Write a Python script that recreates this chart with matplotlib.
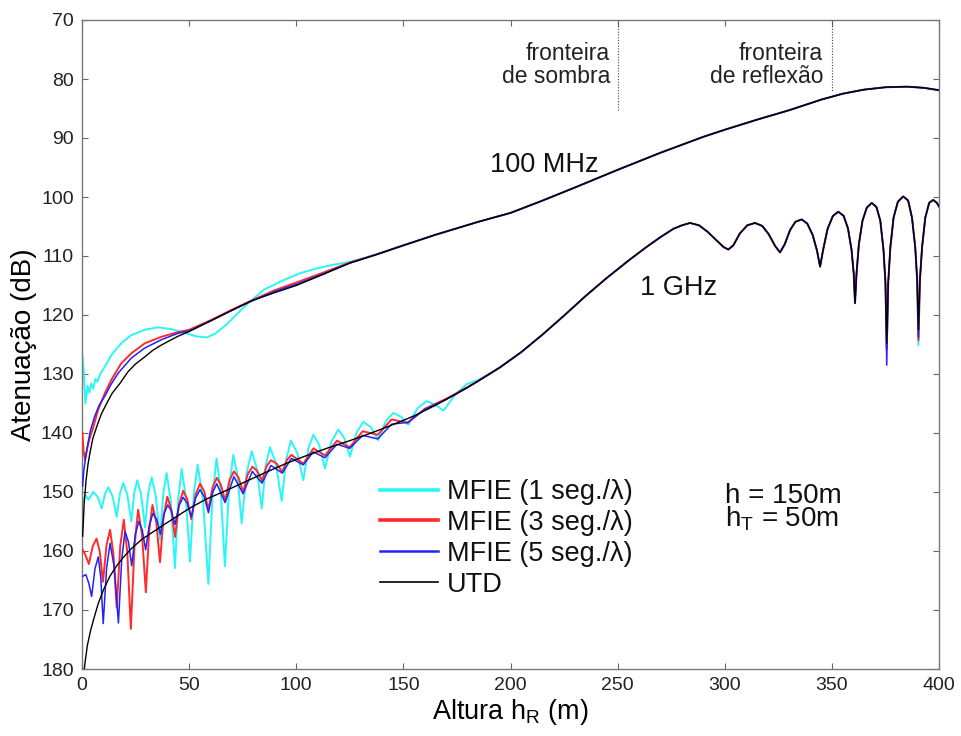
import matplotlib
matplotlib.use("Agg")
import matplotlib.pyplot as plt

plt.rcParams['font.family'] = ['Liberation Sans', 'DejaVu Sans']
plt.rcParams['mathtext.fontset'] = 'custom'
plt.rcParams['mathtext.rm'] = 'Liberation Sans'
plt.rcParams['mathtext.it'] = 'Liberation Sans:italic'

# ---------------- data ----------------
x_ticks = [0, 50, 100, 150, 200, 250, 300, 350, 400]
y_ticks = [70, 80, 90, 100, 110, 120, 130, 140, 150, 160, 170, 180]

labels = ['MFIE (1 seg./λ)', 'MFIE (3 seg./λ)', 'MFIE (5 seg./λ)', 'UTD']

boundary_x = [250, 350]
boundary_end = [85.3, 82.2]

# 100 MHz, UTD (x [m], attenuation [dB])
utd_100 = [(0.3, 157.5), (0.6, 155.3), (1.0, 152.0), (1.9, 148.0), (2.8, 145.3), (3.7, 143.4),
           (5.0, 141.0), (6.9, 138.9), (9.0, 136.8), (11.5, 135.0), (14, 133.3), (17.7, 131.6),
           (21.5, 129.6), (25, 128.3), (29.3, 127.1), (33, 126.0), (37, 125.1), (44.8, 123.6),
           (50, 122.8), (60, 121.0), (70, 119.2), (78.4, 117.7), (90, 116.2), (100, 115.0),
           (112, 113.2), (125, 111.2), (137, 109.8), (150, 108.2), (165, 106.4), (185, 104.2),
           (200, 102.7), (215, 100.6), (230, 98.4), (250, 95.4), (270, 92.5), (290, 89.8),
           (300, 88.6), (315, 86.9), (330, 85.3), (345, 83.5), (355, 82.5), (365, 81.8),
           (375, 81.4), (385, 81.3), (393, 81.5), (400, 81.9)]

# 100 MHz, MFIE curves up to where they join the UTD curve
mfie1_100_head = [(0.2, 127.0), (0.8, 129.5), (1.6, 135.0), (2.6, 132.0), (3.4, 133.2), (4.3, 131.6),
                  (5.2, 132.5), (6.3, 130.8), (7.2, 131.3), (8.5, 130.0), (10.6, 128.8), (13.7, 126.8),
                  (18.3, 124.8), (23, 123.4), (29.3, 122.5), (35.5, 122.1), (41.7, 122.4), (48, 123.0),
                  (53, 123.6), (58.2, 123.8), (62, 123.2), (67.5, 121.6), (73, 119.6), (78.4, 117.7),
                  (85, 115.7), (94, 114.1), (102, 112.9), (109.5, 112.1), (117, 111.5), (125.1, 111.0),
                  (137.5, 109.7)]
mfie3_100_head = [(0.2, 140.0), (0.7, 143.0), (1.4, 144.6), (2.5, 142.5), (3.5, 141.0), (5.1, 139.2),
                  (7.5, 136.1), (10.6, 133.3), (13.7, 131.0), (18.3, 128.2), (23, 126.5), (29.3, 124.8),
                  (37, 123.7), (44.8, 122.9), (50, 122.5), (60, 120.9), (70, 119.1), (80, 117.4),
                  (90, 115.8), (100, 114.5), (112, 112.9), (125, 111.1), (137, 109.8)]
mfie5_100_head = [(0.3, 149.0), (0.8, 146.5), (1.8, 143.8), (2.8, 141.7), (4.0, 139.5), (5.9, 137.2),
                  (8.0, 135.3), (10.6, 133.8), (13.5, 131.8), (16.8, 129.9), (23, 127.3), (29.3, 125.6),
                  (37, 124.2), (44.8, 123.1), (50, 122.7), (60, 121.0), (70, 119.2), (80, 117.5),
                  (90, 116.0), (100, 114.8), (112, 113.1), (125, 111.2), (137, 109.8)]
join_100 = 150

# 1 GHz, UTD
utd_1g = [(0.9, 180.5), (1.4, 179.0), (2.5, 176.0), (4.0, 173.5), (5.5, 171.5), (7.5, 169.0),
          (10, 166.6), (13, 164.3), (16, 162.6), (19, 161.2), (23, 159.6), (28, 158.0), (33, 156.8),
          (38, 155.6), (44, 154.2), (50, 152.8), (58, 151.2), (67, 149.8), (76, 148.3), (85, 146.8),
          (95, 145.2), (105, 143.8), (115, 142.5), (125, 141.3), (135, 140.0), (145, 138.6),
          (155, 137.1), (165, 135.3), (175, 133.3), (185, 131.2), (195, 128.9), (205, 126.3),
          (215, 123.3), (225, 120.1), (235, 116.8), (245, 113.7), (255, 110.8), (263, 108.6),
          (270, 106.8), (276, 105.4), (280, 104.8), (283.8, 104.4), (288, 104.8), (292, 105.9),
          (296, 107.3), (299.5, 108.5), (301.7, 108.9), (304, 108.2), (307, 106.2), (310.5, 104.8),
          (314.1, 104.4), (317.5, 104.9), (320.5, 106.3), (323.5, 108.3), (325.8, 109.4),
          (328, 108.0), (330.5, 105.6), (333, 104.2), (335.9, 103.8), (338.5, 104.5), (341, 106.4),
          (343, 109.0), (344.5, 111.8), (346, 108.8), (348, 105.4), (350.5, 103.2), (353, 102.5),
          (355.5, 103.2), (357.5, 105.3), (359.2, 109.0), (360.2, 113.0), (360.8, 118.0),
          (361.5, 113.0), (362.6, 108.0), (364.3, 104.0), (366.3, 101.8), (368.6, 101.0),
          (370.8, 101.7), (372.6, 104.0), (374.1, 109.0), (375.0, 114.5), (375.6, 124.8),
          (376.3, 114.5), (377.3, 108.5), (378.8, 103.5), (380.8, 100.8), (383.3, 99.9),
          (385.6, 100.6), (387.4, 103.5), (388.9, 108.5), (389.8, 114.0), (390.4, 122.5),
          (391.1, 114.0), (392.1, 108.5), (393.6, 103.5), (395.4, 101.0), (397.3, 100.5),
          (399, 101.0), (400, 101.6)]

# 1 GHz, MFIE curves up to where they join the UTD curve
mfie1_1g_head = [(0.3, 151.8), (1.5, 150.5), (3.0, 151.3), (5.3, 150.0), (7.25, 150.8), (9.2, 152.8),
                 (10.75, 150.3), (12.3, 149.2), (14.25, 150.7), (16.2, 154.2), (17.75, 150.2),
                 (19.3, 148.5), (21.15, 150.45), (23.0, 155.0), (24.4, 150.1), (25.8, 148.0),
                 (27.6, 150.4), (29.4, 156.0), (30.95, 150.05), (32.5, 147.5), (34.45, 150.7),
                 (36.4, 158.1), (37.95, 150.2), (39.5, 146.8), (41.45, 151.6), (43.4, 162.9),
                 (44.95, 151.1), (46.5, 146.1), (48.45, 150.8), (50.4, 161.8), (52.2, 150.3),
                 (54.0, 145.4), (56.5, 151.5), (59.0, 165.6), (60.9, 150.7), (62.8, 144.3),
                 (64.75, 149.8), (66.7, 162.6), (68.65, 149.4), (70.6, 143.7), (72.55, 147.2),
                 (74.5, 155.3), (76.85, 146.8), (79.2, 143.1), (81.55, 146.0), (83.9, 152.8),
                 (85.8, 145.5), (87.7, 142.4), (90.45, 145.1), (93.2, 151.5), (95.35, 144.4),
                 (97.5, 141.3), (100.4, 143.3), (103.3, 148.0), (105.65, 142.6), (108.0, 140.3),
                 (110.7, 142.0), (113.4, 146.0), (116.5, 141.4), (119.6, 139.4), (122.35, 140.8),
                 (125.1, 144.0), (128.2, 139.9), (131.3, 138.1), (134.8, 139.0), (138.3, 141.2),
                 (141.8, 138.0), (145.3, 136.6), (148.8, 137.2), (152.3, 138.6), (156.6, 135.8),
                 (160.9, 134.6), (164.8, 135.2), (168.7, 136.2), (174, 133.6), (179.5, 131.7),
                 (185, 131.0)]
mfie3_1g_head = [(0.3, 159.8), (1.5, 160.6), (3.2, 162.2), (5.0, 159.2), (6.8, 157.9), (8.3, 160.1),
                 (9.8, 165.2), (11.45, 159.0), (13.1, 156.4), (14.65, 160.4), (16.2, 169.6),
                 (17.85, 159.2), (19.5, 154.7), (21.15, 160.25), (22.8, 173.2), (24.5, 159.1),
                 (26.2, 153.0), (28.0, 157.2), (29.8, 167.0), (31.35, 156.6), (32.9, 152.2),
                 (34.65, 155.1), (36.4, 161.9), (38.1, 154.1), (39.8, 150.8), (41.6, 152.8),
                 (43.4, 157.6), (45.3, 152.1), (47.2, 149.8), (49.1, 151.2), (51.0, 154.6),
                 (53.05, 150.4), (55.1, 148.6), (57.05, 149.9), (59.0, 153.0), (60.95, 149.2),
                 (62.9, 147.6), (64.85, 148.8), (66.8, 151.5), (68.85, 148.0), (70.9, 146.5),
                 (73.05, 147.55), (75.2, 150.0), (77.35, 147.0), (79.5, 145.7), (81.75, 146.4),
                 (84.0, 148.1), (86.1, 145.65), (88.2, 144.6), (90.85, 145.2), (93.5, 146.6),
                 (95.6, 144.6), (97.7, 143.7), (103.3, 145.2), (108.0, 142.6), (113.4, 143.8),
                 (119.0, 141.3), (125.0, 142.4), (131.0, 139.7), (138.0, 140.3), (144.5, 137.7),
                 (152.0, 138.3), (160.0, 135.9), (170.0, 134.2), (180.0, 132.2), (187.0, 130.7)]
mfie5_1g_head = [(0.3, 164.3), (1.8, 164.0), (3.2, 165.5), (4.5, 167.7), (6.05, 163.0), (7.6, 161.0),
                 (8.75, 164.4), (9.9, 172.3), (11.5, 162.8), (13.1, 158.7), (15.05, 162.75),
                 (17.0, 172.2), (18.55, 161.35), (20.1, 156.7), (21.65, 158.4), (23.2, 162.5),
                 (24.85, 157.25), (26.5, 155.0), (28.1, 156.4), (29.7, 159.8), (31.45, 155.5),
                 (33.2, 153.6), (34.9, 154.7), (36.6, 157.2), (38.3, 153.7), (40.0, 152.2),
                 (41.7, 153.2), (43.4, 155.5), (45.3, 152.3), (47.2, 150.9), (49.1, 151.9),
                 (51.0, 154.2), (53.05, 151.0), (55.1, 149.6), (57.05, 150.8), (59.0, 153.5),
                 (60.95, 150.1), (62.9, 148.6), (66.8, 151.8), (70.9, 147.4), (75.2, 150.3),
                 (79.5, 146.5), (84.0, 148.5), (88.2, 145.5), (93.5, 146.8), (97.7, 144.3),
                 (103.3, 145.4), (108.0, 143.2), (113.4, 144.2), (119.0, 141.9), (125.0, 142.6),
                 (131.0, 140.4), (138.0, 141.0), (144.5, 138.5), (152.0, 138.2), (160.0, 136.0),
                 (170.0, 134.3), (180.0, 132.3), (187.0, 130.7)]
join_1g = 190
# depths of the deepest nulls where the MFIE curves differ from UTD
mfie1_1g_nulls = {375.6: 125.5, 390.4: 125.1}
mfie3_1g_nulls = {375.6: 125.8, 390.4: 124.3}
mfie5_1g_nulls = {375.6: 128.5, 390.4: 123.8}


def joined(head, base, start, nulls=None):
    nulls = nulls or {}
    pts = list(head) + [(x, nulls.get(x, y)) for x, y in base if x >= start]
    return [p[0] for p in pts], [p[1] for p in pts]


# ---------------- figure ----------------
W, H = 961, 736
fig = plt.figure(figsize=(W / 100, H / 100), dpi=100)
ax = fig.add_axes([82 / W, 1 - 669 / H, 857 / W, 649 / H])

colors = ['#2af6f6', '#ff2a2a', '#2222ff', '#000000']
widths = [1.4, 1.4, 1.1, 1.0]

series_100 = [joined(mfie1_100_head, utd_100, join_100),
              joined(mfie3_100_head, utd_100, join_100),
              joined(mfie5_100_head, utd_100, join_100),
              ([p[0] for p in utd_100], [p[1] for p in utd_100])]
series_1g = [joined(mfie1_1g_head, utd_1g, join_1g, mfie1_1g_nulls),
             joined(mfie3_1g_head, utd_1g, join_1g, mfie3_1g_nulls),
             joined(mfie5_1g_head, utd_1g, join_1g, mfie5_1g_nulls),
             ([p[0] for p in utd_1g], [p[1] for p in utd_1g])]

handles = []
for i in range(4):
    for (xs, ys) in (series_100[i], series_1g[i]):
        ln, = ax.plot(xs, ys, color=colors[i], lw=widths[i], solid_joinstyle='round', zorder=2 + i)
    handles.append(ln)

ax.vlines(boundary_x, 70, boundary_end, colors='#444444', linestyles=(0, (1, 1.5)), lw=0.8)

ax.set_xlim(0, 400)
ax.set_ylim(180, 70)
ax.set_xticks(x_ticks)
ax.set_yticks(y_ticks)
ax.tick_params(direction='in', length=4, width=0.8, color='#666666', labelsize=14,
               labelcolor='#222222', top=True, right=True, pad=6)
for s in ax.spines.values():
    s.set_color('#777777')
    s.set_linewidth(1.0)

ax.set_xlabel('Altura h$_\\mathregular{R}$ (m)', fontsize=19.5, labelpad=2)
ax.set_ylabel('Atenuação (dB)', fontsize=20, labelpad=3)

ax.text(246.5, 80.7, 'fronteira\nde sombra', ha='right', va='baseline', multialignment='right',
        fontsize=16.5, color='#222222', linespacing=1.0)
ax.text(345.9, 80.7, 'fronteira\nde reflexão', ha='right', va='baseline', multialignment='right',
        fontsize=16.5, color='#222222', linespacing=1.0)
ax.text(190.4, 95.7, '100 MHz', ha='left', va='baseline', fontsize=19.5, color='#111111')
ax.text(260.4, 116.6, '1 GHz', ha='left', va='baseline', fontsize=19.5, color='#111111')
ax.text(300.1, 155.9, 'h = 150m\nh$_\\mathregular{T}$ = 50m', ha='left', va='baseline',
        multialignment='left', fontsize=20, color='#111111', linespacing=0.82)

leg = ax.legend(handles, labels, loc='upper left', bbox_to_anchor=(380 / W, 1 - 479 / H),
                bbox_transform=fig.transFigure, frameon=False, fontsize=19.5,
                handlelength=2.14, handletextpad=0.33, labelspacing=0.18,
                borderpad=0, borderaxespad=0)
for t in leg.get_texts():
    t.set_color('#111111')
for ln, lw in zip(leg.get_lines(), [2.6, 2.6, 1.8, 1.2]):
    ln.set_linewidth(lw)

fig.savefig('out.png', dpi=100)
